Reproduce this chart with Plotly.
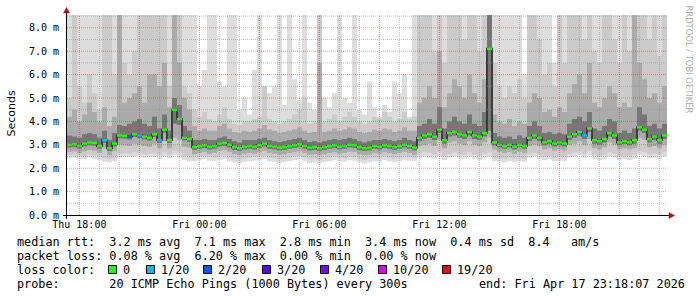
import plotly.graph_objects as go
import pandas as pd

# ---------------- data ----------------
RANGE_START = pd.Timestamp("2026-04-16 17:23:00")
RANGE_HOURS = 30
BIN = "15min"

median_ms = [3.0, 3.02, 2.95, 3.05, 3.1, 3.08, 2.95, 3.2, 2.85, 3.05,
             3.4, 3.38, 3.35, 3.45, 3.4, 3.35, 3.3, 3.45, 3.2, 3.65,
             3.2, 4.5, 4.1, 3.3, 3.25, 2.9, 2.95, 2.98, 2.92, 2.95,
             3.05, 3.08, 3.0, 2.9, 2.85, 2.92, 2.95, 2.92, 2.98, 3.05,
             2.95, 2.92, 2.88, 2.9, 2.95, 2.98, 3.02, 2.95, 2.88, 2.9,
             2.85, 2.9, 2.95, 2.98, 2.92, 2.95, 3.0, 2.98, 2.9, 2.85,
             2.88, 2.95, 2.92, 2.98, 2.95, 2.9, 2.95, 3.0, 2.95, 2.88,
             3.3, 3.4, 3.45, 3.35, 3.65, 3.2, 3.5, 3.55, 3.45, 3.4,
             3.55, 3.4, 3.35, 3.5, 7.1, 3.1, 3.0, 2.95, 3.0, 2.92,
             3.0, 2.95, 3.3, 3.4, 3.3, 3.1, 3.15, 3.05, 3.1, 3.05,
             3.35, 3.45, 3.55, 3.4, 3.7, 3.2, 3.15, 3.25, 3.5, 3.4,
             3.1, 3.15, 3.1, 3.2, 3.75, 3.65, 3.25, 3.35, 3.2, 3.4]

loss_bins = [7, 12, 14, 18, 103]
loss_counts = [1, 2, 1, 1, 1]

# smoke: lowest / highest ping and intermediate sorted pings (ms)
ping_lo1 = [2.42, 2.45, 2.4, 2.38, 2.45, 2.4, 2.35, 2.28, 2.25, 2.3,
            2.45, 2.5, 2.48, 2.5, 2.52, 2.45, 2.5, 2.48, 2.4, 2.5,
            2.42, 2.55, 2.45, 2.35, 2.3, 2.3, 2.35, 2.38, 2.32, 2.3,
            2.35, 2.4, 2.3, 2.25, 2.2, 2.28, 2.3, 2.32, 2.35, 2.38,
            2.3, 2.28, 2.2, 2.25, 2.3, 2.35, 2.38, 2.3, 2.22, 2.25,
            2.2, 2.25, 2.3, 2.35, 2.3, 2.28, 2.35, 2.32, 2.25, 2.2,
            2.25, 2.3, 2.28, 2.35, 2.3, 2.25, 2.3, 2.35, 2.32, 2.3,
            2.45, 2.5, 2.45, 2.4, 2.5, 2.35, 2.45, 2.5, 2.42, 2.4,
            2.5, 2.4, 2.35, 2.45, 2.5, 2.3, 2.28, 2.25, 2.3, 2.25,
            2.3, 2.28, 2.45, 2.5, 2.4, 2.35, 2.38, 2.3, 2.32, 2.3,
            2.45, 2.5, 2.55, 2.45, 2.55, 2.4, 2.35, 2.4, 2.5, 2.45,
            2.35, 2.38, 2.35, 2.4, 2.55, 2.5, 2.42, 2.45, 2.4, 2.5]
ping_lo2 = [2.55, 2.58, 2.52, 2.5, 2.58, 2.55, 2.48, 2.42, 2.4, 2.45,
            2.62, 2.65, 2.62, 2.68, 2.66, 2.6, 2.62, 2.65, 2.55, 2.68,
            2.58, 2.75, 2.65, 2.5, 2.45, 2.45, 2.5, 2.52, 2.48, 2.45,
            2.5, 2.55, 2.45, 2.4, 2.38, 2.42, 2.45, 2.48, 2.5, 2.52,
            2.45, 2.42, 2.38, 2.4, 2.45, 2.5, 2.52, 2.45, 2.38, 2.4,
            2.35, 2.4, 2.45, 2.5, 2.45, 2.42, 2.5, 2.48, 2.4, 2.35,
            2.4, 2.45, 2.42, 2.5, 2.45, 2.4, 2.45, 2.5, 2.48, 2.45,
            2.62, 2.68, 2.65, 2.58, 2.7, 2.5, 2.62, 2.68, 2.6, 2.58,
            2.68, 2.58, 2.52, 2.62, 2.7, 2.45, 2.42, 2.4, 2.45, 2.4,
            2.45, 2.42, 2.62, 2.66, 2.58, 2.5, 2.52, 2.45, 2.48, 2.45,
            2.62, 2.68, 2.72, 2.62, 2.75, 2.55, 2.5, 2.58, 2.68, 2.62,
            2.5, 2.52, 2.5, 2.58, 2.72, 2.68, 2.6, 2.62, 2.58, 2.68]
ping_lo3 = [2.7, 2.72, 2.65, 2.72, 2.78, 2.75, 2.65, 2.85, 2.55, 2.72,
            3.0, 2.98, 2.95, 3.05, 3.0, 2.95, 2.92, 3.05, 2.85, 3.15,
            2.85, 3.3, 3.2, 2.92, 2.88, 2.6, 2.65, 2.68, 2.62, 2.65,
            2.75, 2.78, 2.7, 2.6, 2.55, 2.62, 2.65, 2.62, 2.68, 2.75,
            2.65, 2.62, 2.58, 2.6, 2.65, 2.68, 2.72, 2.65, 2.58, 2.6,
            2.55, 2.6, 2.65, 2.68, 2.62, 2.65, 2.7, 2.68, 2.6, 2.55,
            2.58, 2.65, 2.62, 2.68, 2.65, 2.6, 2.65, 2.7, 2.65, 2.58,
            2.95, 3.0, 3.05, 2.95, 3.2, 2.85, 3.1, 3.15, 3.05, 3.0,
            3.15, 3.0, 2.95, 3.1, 3.3, 2.8, 2.7, 2.65, 2.7, 2.62,
            2.7, 2.65, 2.95, 3.0, 2.95, 2.8, 2.85, 2.75, 2.8, 2.75,
            3.0, 3.05, 3.15, 3.0, 3.25, 2.85, 2.8, 2.9, 3.1, 3.0,
            2.8, 2.85, 2.8, 2.85, 3.3, 3.2, 2.9, 2.95, 2.85, 3.0]
ping_lo4 = [2.88, 2.9, 2.83, 2.93, 2.98, 2.96, 2.83, 3.08, 2.73, 2.93,
            3.28, 3.26, 3.23, 3.33, 3.28, 3.23, 3.18, 3.33, 3.08, 3.5,
            3.08, 3.9, 3.85, 3.18, 3.13, 2.78, 2.83, 2.86, 2.8, 2.83,
            2.93, 2.96, 2.88, 2.78, 2.73, 2.8, 2.83, 2.8, 2.86, 2.93,
            2.83, 2.8, 2.76, 2.78, 2.83, 2.86, 2.9, 2.83, 2.76, 2.78,
            2.73, 2.78, 2.83, 2.86, 2.8, 2.83, 2.88, 2.86, 2.78, 2.73,
            2.76, 2.83, 2.8, 2.86, 2.83, 2.78, 2.83, 2.88, 2.83, 2.76,
            3.15, 3.25, 3.3, 3.2, 3.5, 3.05, 3.35, 3.4, 3.3, 3.25,
            3.4, 3.25, 3.2, 3.35, 3.6, 2.98, 2.88, 2.83, 2.88, 2.8,
            2.88, 2.83, 3.15, 3.25, 3.15, 2.98, 3.03, 2.93, 2.98, 2.93,
            3.2, 3.3, 3.4, 3.25, 3.55, 3.05, 3.0, 3.1, 3.35, 3.25,
            2.98, 3.03, 2.98, 3.05, 3.6, 3.5, 3.1, 3.2, 3.05, 3.25]
ping_hi4 = [3.4, 3.35, 3.3, 3.45, 3.5, 3.45, 3.3, 3.6, 3.2, 3.5,
            3.85, 3.8, 3.9, 4.0, 4.1, 3.9, 3.8, 4.2, 3.7, 4.3,
            3.6, 5.0, 4.7, 3.8, 3.6, 3.2, 3.2, 3.25, 3.2, 3.2,
            3.3, 3.35, 3.25, 3.15, 3.1, 3.2, 3.2, 3.2, 3.25, 3.3,
            3.2, 3.15, 3.12, 3.15, 3.2, 3.25, 3.3, 3.2, 3.12, 3.15,
            3.1, 3.15, 3.2, 3.25, 3.2, 3.25, 3.3, 3.25, 3.15, 3.1,
            3.15, 3.2, 3.2, 3.25, 3.2, 3.15, 3.2, 3.3, 3.2, 3.15,
            3.8, 3.9, 4.1, 3.9, 4.6, 3.7, 4.0, 4.2, 4.0, 3.9,
            4.3, 3.9, 3.8, 4.4, 8.6, 3.5, 3.35, 3.3, 3.35, 3.25,
            3.4, 3.3, 3.8, 4.0, 3.8, 3.5, 3.55, 3.45, 3.5, 3.45,
            3.9, 4.1, 4.2, 4.0, 4.4, 3.7, 3.6, 3.8, 4.1, 4.0,
            3.5, 3.6, 3.5, 3.7, 4.6, 4.3, 3.8, 3.9, 3.7, 3.9]
ping_hi3 = [4.2, 4.5, 4.0, 4.3, 4.8, 4.4, 4.0, 4.6, 3.8, 4.2,
            8.6, 4.8, 5.0, 5.2, 5.5, 4.8, 6.0, 6.0, 5.5, 6.5,
            4.6, 8.6, 6.5, 5.0, 4.5, 3.8, 3.6, 3.7, 3.6, 3.6,
            3.8, 3.9, 3.7, 3.55, 3.5, 3.6, 3.55, 3.6, 3.7, 3.85,
            3.65, 3.6, 3.5, 3.55, 3.6, 3.65, 3.75, 3.6, 3.5, 3.55,
            6.5, 3.55, 3.6, 3.7, 3.6, 3.65, 3.75, 3.7, 3.55, 3.5,
            3.55, 3.65, 3.6, 3.7, 3.65, 3.55, 3.6, 3.75, 3.6, 3.6,
            4.8, 5.0, 5.5, 5.0, 7.0, 4.6, 5.2, 5.8, 5.5, 5.0,
            6.0, 5.2, 4.8, 5.8, 8.6, 4.3, 4.0, 3.9, 4.1, 3.8,
            4.0, 3.9, 4.8, 5.2, 5.0, 4.4, 4.5, 4.2, 4.6, 4.4,
            5.2, 5.6, 6.0, 5.2, 6.5, 4.8, 4.6, 5.0, 5.5, 5.2,
            4.6, 4.8, 4.6, 8.6, 6.5, 5.8, 5.0, 5.2, 4.8, 5.5]
ping_hi2 = [5.0, 8.6, 5.5, 4.8, 6.0, 5.2, 4.5, 8.6, 8.6, 6.0,
            8.6, 6.5, 6.0, 7.0, 8.6, 8.6, 8.6, 8.6, 8.6, 8.6,
            5.5, 8.6, 8.6, 5.5, 5.2, 4.5, 4.2, 4.4, 4.1, 4.0,
            4.3, 4.6, 4.1, 3.9, 3.85, 4.0, 4.0, 4.1, 4.2, 5.5,
            4.1, 4.0, 3.9, 4.0, 4.1, 4.3, 4.5, 5.0, 3.9, 4.0,
            8.6, 4.0, 4.1, 4.3, 4.0, 4.2, 4.4, 4.2, 4.0, 3.9,
            4.0, 4.2, 4.1, 4.4, 4.2, 4.0, 4.1, 4.4, 4.1, 4.2,
            8.6, 8.6, 8.6, 7.0, 8.6, 6.5, 8.6, 8.6, 8.6, 7.5,
            8.6, 8.6, 7.0, 8.6, 8.6, 6.5, 5.5, 5.0, 5.5, 5.2,
            5.8, 5.0, 8.6, 8.6, 7.5, 6.0, 6.5, 5.5, 8.6, 6.5,
            8.6, 8.6, 8.6, 7.5, 8.6, 7.0, 6.5, 8.6, 8.6, 7.5,
            6.5, 8.6, 7.0, 8.6, 8.6, 8.6, 7.5, 8.6, 6.8, 8.6]
ping_hi1 = [8.6, 8.6, 8.6, 8.6, 8.6, 8.6, 8.6, 8.6, 7.0, 8.6,
            8.6, 8.6, 8.6, 8.6, 8.6, 8.6, 8.6, 8.6, 8.6, 8.6,
            8.6, 8.6, 8.6, 8.6, 8.6, 8.6, 5.5, 6.2, 8.6, 8.6,
            5.7, 5.5, 8.6, 8.6, 4.5, 5.0, 4.3, 6.2, 8.6, 5.5,
            5.2, 5.5, 8.6, 4.7, 8.6, 5.8, 4.9, 8.6, 4.8, 4.5,
            8.6, 5.0, 4.6, 5.2, 8.6, 5.0, 4.8, 8.6, 4.5, 4.3,
            5.7, 4.6, 4.2, 4.7, 4.4, 5.7, 5.2, 6.0, 4.2, 8.6,
            8.6, 8.6, 8.6, 8.6, 8.6, 8.6, 8.6, 8.6, 8.6, 8.6,
            8.6, 8.6, 8.6, 8.6, 8.6, 8.6, 8.6, 8.6, 8.6, 8.6,
            8.6, 6.0, 8.6, 8.6, 8.6, 8.6, 8.6, 6.5, 8.6, 8.6,
            8.6, 8.6, 8.6, 8.6, 8.6, 8.6, 8.6, 8.6, 8.6, 8.6,
            8.6, 7.0, 8.6, 8.6, 8.6, 8.6, 8.6, 8.6, 8.6, 8.6]

y_ticks = [0, 1, 2, 3, 4, 5, 6, 7, 8]
x_tick_times = ["2026-04-16 18:00", "2026-04-17 00:00", "2026-04-17 06:00",
                "2026-04-17 12:00", "2026-04-17 18:00"]

rtt_stats = [("3.2 ms", "avg"), ("7.1 ms", "max"), ("2.8 ms", "min"),
             ("3.4 ms", "now"), ("0.4 ms", "sd"), ("8.4  ", "am/s")]
loss_stats = [("0.08 %", "avg"), ("6.20 %", "max"), ("0.00 %", "min"), ("0.00 %", "now")]
loss_labels = ["0", "1/20", "2/20", "3/20", "4/20", "10/20", "19/20"]
loss_levels = [0, 1, 2, 3, 4, 10, 19]
loss_colors = ["#26ff00", "#00b8ff", "#0059ff", "#5e00ff", "#7e00ff", "#dd00ff", "#ff0000"]
probe_text = "20 ICMP Echo Pings (1000 Bytes) every 300s"
end_text = "end: Fri Apr 17 23:18:07 2026"

# ---------------- figure ----------------
W, H = 697, 297
L, T, PW, PH = 67, 15, 600, 200
Y_MAX = 8.547

def pxx(x):
    return (x - L) / PW

def pxy(y):
    return (T + PH - y) / PH

n = len(median_ms)
edges = pd.date_range(RANGE_START, periods=n + 1, freq=BIN)
range_end = RANGE_START + pd.Timedelta(hours=RANGE_HOURS)

def step(v):
    return list(v) + [v[-1]]

fig = go.Figure()
bands = [(ping_lo1, ping_hi1, "#dddddd"),
         (ping_lo2, ping_hi2, "#cbcbcb"),
         (ping_lo3, ping_hi3, "#ababab"),
         (ping_lo4, ping_hi4, "#767676")]
for lo, hi, col in bands:
    fig.add_trace(go.Scatter(x=edges, y=step(lo), mode="lines",
                             line=dict(width=0, shape="hv"), hoverinfo="skip",
                             showlegend=False))
    fig.add_trace(go.Scatter(x=edges, y=step(hi), mode="lines", fill="tonexty",
                             fillcolor=col, line=dict(width=0, shape="hv"),
                             hoverinfo="skip", showlegend=False))

# dark innermost pings hugging the median
fig.add_trace(go.Scatter(x=edges, y=step(median_ms), mode="lines",
                         line=dict(color="#3c3c3c", width=2, shape="hv"),
                         hoverinfo="skip", showlegend=False))

# median, coloured by loss
loss_of_bin = {b: c for b, c in zip(loss_bins, loss_counts)}
for lvl, col in zip(loss_levels, loss_colors):
    xs, ys = [], []
    for k in range(n):
        c = loss_of_bin.get(k, 0)
        lv = max(l for l in loss_levels if l <= c)
        if lv == lvl:
            xs += [edges[k], edges[k + 1], None]
            ys += [median_ms[k], median_ms[k], None]
    if xs:
        fig.add_trace(go.Scatter(x=xs, y=ys, mode="lines",
                                 line=dict(color=col, width=2.5),
                                 hoverinfo="skip", showlegend=False))

shapes = []
grid_minor = "rgba(140,140,140,0.5)"
grid_major = "rgba(200,40,40,0.45)"
for i in range(1, 18):
    v = i * 0.5
    if v > Y_MAX:
        break
    major = (i % 2 == 0)
    shapes.append(dict(type="line", xref="paper", yref="y", x0=0, x1=1, y0=v, y1=v,
                       line=dict(color=grid_major if major else grid_minor, width=1, dash="1px,1px"),
                       layer="above"))
for t in pd.date_range(RANGE_START.ceil("h"), range_end, freq="h"):
    major = (t.hour % 3 == 0)
    shapes.append(dict(type="line", xref="x", yref="paper", x0=t, x1=t, y0=0, y1=1,
                       line=dict(color=grid_major if major else grid_minor, width=1, dash="1px,1px"),
                       layer="above"))
shapes.append(dict(type="line", xref="paper", yref="paper", x0=pxx(63), x1=pxx(670),
                   y0=pxy(215.5), y1=pxy(215.5), line=dict(color="#000000", width=1), layer="above"))
shapes.append(dict(type="line", xref="paper", yref="paper", x0=pxx(66.5), x1=pxx(66.5),
                   y0=pxy(219), y1=pxy(11), line=dict(color="#000000", width=1), layer="above"))
arrow_col = "#9e1a1a"
shapes.append(dict(type="path", xref="paper", yref="paper",
                   path=f"M {pxx(669)},{pxy(212.5)} L {pxx(674.5)},{pxy(215.5)} L {pxx(669)},{pxy(218.5)} Z",
                   fillcolor=arrow_col, line=dict(color=arrow_col, width=0.5), layer="above"))
shapes.append(dict(type="path", xref="paper", yref="paper",
                   path=f"M {pxx(63.5)},{pxy(13)} L {pxx(66.5)},{pxy(7.5)} L {pxx(69.5)},{pxy(13)} Z",
                   fillcolor=arrow_col, line=dict(color=arrow_col, width=0.5), layer="above"))

annotations = []
LEG_FONT = dict(family="DejaVu Sans Mono", size=11.8, color="#000000")
NB = "\u00a0"

def leg(text, x, y):
    annotations.append(dict(text=text.replace(" ", NB), xref="paper", yref="paper",
                            x=pxx(x), y=pxy(y), xanchor="left", yanchor="middle",
                            showarrow=False, font=LEG_FONT, borderpad=0))

line1 = "median rtt:  " + "  ".join(f"{a} {b}" for a, b in rtt_stats)
line2 = "packet loss: " + "  ".join(f"{a} {b}" for a, b in loss_stats)
leg(line1, 16, 241.5)
leg(line2, 16, 255.5)
leg("loss color:", 16, 269.5)
leg("probe:       " + probe_text, 16, 283.5)
leg(end_text, 478, 283.5)

box_x = [108, 146, 203, 262, 320, 378, 442]
for bx, lab, col in zip(box_x, loss_labels, loss_colors):
    shapes.append(dict(type="rect", xref="paper", yref="paper",
                       x0=pxx(bx + 0.5), x1=pxx(bx + 8.5), y0=pxy(265.5), y1=pxy(273.5),
                       fillcolor=col, line=dict(color="#000000", width=1), layer="above"))
    leg(lab, bx + 14, 269.5)

annotations.append(dict(text="Seconds", xref="paper", yref="paper", x=pxx(11), y=pxy(113.5),
                        xanchor="center", yanchor="middle", textangle=-90, showarrow=False,
                        font=dict(family="DejaVu Sans", size=11, color="#000000")))
annotations.append(dict(text="RRDTOOL / TOBI OETIKER", xref="paper", yref="paper",
                        x=pxx(688.5), y=pxy(59), xanchor="center", yanchor="middle",
                        textangle=90, showarrow=False,
                        font=dict(family="DejaVu Sans", size=8.4, color="#b0b0b0")))

fig.update_layout(
    width=W, height=H, autosize=False,
    margin=dict(l=L, r=W - L - PW, t=T, b=H - T - PH, pad=0),
    paper_bgcolor="#ffffff", plot_bgcolor="#ffffff",
    showlegend=False, hovermode=False,
    shapes=shapes, annotations=annotations,
    xaxis=dict(type="date", range=[RANGE_START, range_end], showgrid=False, zeroline=False,
               showline=False, ticks="", tickvals=pd.to_datetime(x_tick_times),
               ticktext=[pd.Timestamp(t).strftime("%a %H:%M") for t in x_tick_times],
               tickfont=dict(family="DejaVu Sans Mono", size=10, color="#000000"),
               ticklabelstandoff=2),
    yaxis=dict(range=[0, Y_MAX], showgrid=False, zeroline=False, showline=False, ticks="",
               tickvals=y_ticks, ticktext=[f"{v:.1f} m" for v in y_ticks],
               tickfont=dict(family="DejaVu Sans Mono", size=10, color="#000000"),
               ticklabelstandoff=7),
)

fig.write_html("out.html")
